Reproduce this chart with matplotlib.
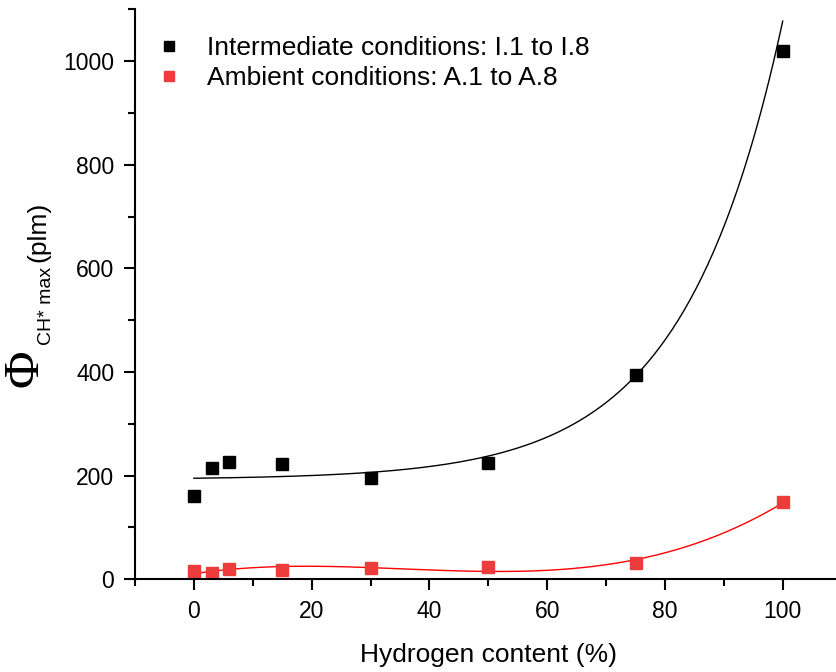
import numpy as np
import matplotlib.pyplot as plt
from matplotlib.ticker import MultipleLocator

plt.rcParams['font.family'] = ['Liberation Sans', 'DejaVu Sans']

# hydrogen content (%)
h2 = [0, 3, 6, 15, 30, 50, 75, 100]
intermediate = [160, 214, 226, 222, 196, 225, 395, 1020]
ambient = [15, 13, 20, 18, 22, 24, 31, 149]

# exponential growth fit for the intermediate series: y0 + A*exp(x/t)
exp_y0 = 192.7
exp_A = 2.3
exp_t = 16.8

fig = plt.figure(figsize=(8.36, 6.72), dpi=100)
ax = fig.add_axes([0.1615, 0.138, 0.8452, 0.848])

xs = np.linspace(0, 100, 300)
ax.plot(xs, exp_y0 + exp_A * np.exp(xs / exp_t), color='black', lw=1.0)
coef = np.polyfit(h2, ambient, 3)
ax.plot(xs, np.polyval(coef, xs), color='red', lw=1.0)

ax.plot(h2, intermediate, 's', color='black', ms=9, label='Intermediate conditions: I.1 to I.8')
ax.plot(h2, ambient, 's', color='#ee3b3b', ms=9, label='Ambient conditions: A.1 to A.8')

ax.set_xlim(-10, 110)
ax.set_ylim(0, 1100)
ax.xaxis.set_major_locator(MultipleLocator(20))
ax.xaxis.set_minor_locator(MultipleLocator(10))
ax.yaxis.set_major_locator(MultipleLocator(200))
ax.yaxis.set_minor_locator(MultipleLocator(100))
ax.set_xticks([0, 20, 40, 60, 80, 100])
ax.tick_params(which='major', direction='out', length=8, width=1.5, labelsize=16.5)
ax.tick_params(axis='y', which='major', pad=7)
ax.tick_params(axis='x', which='major', pad=7)
ax.tick_params(which='minor', direction='out', length=5, width=1.5)
for s in ['top', 'right']:
    ax.spines[s].set_visible(False)
for s in ['left', 'bottom']:
    ax.spines[s].set_linewidth(1.5)

ax.set_xlabel('Hydrogen content (%)', fontsize=19, labelpad=14)

leg = ax.legend(loc='upper left', bbox_to_anchor=(0.0, 0.981), frameon=False, fontsize=19,
                markerscale=0.8, handlelength=1.4, handletextpad=0.72, labelspacing=0.22,
                borderaxespad=0.2)

# y label built from pieces
fig.text(0.030, 1 - 368 / 672, '\u03a6', family='Liberation Serif', fontsize=37, rotation=90,
         ha='center', va='center')
fig.text(0.056, 1 - 306 / 672, 'CH* max', fontsize=14, rotation=90, ha='center', va='center')
fig.text(0.046, 1 - 232 / 672, '(plm)', fontsize=19, rotation=90, ha='center', va='center')

fig.savefig('out.png', dpi=100)
